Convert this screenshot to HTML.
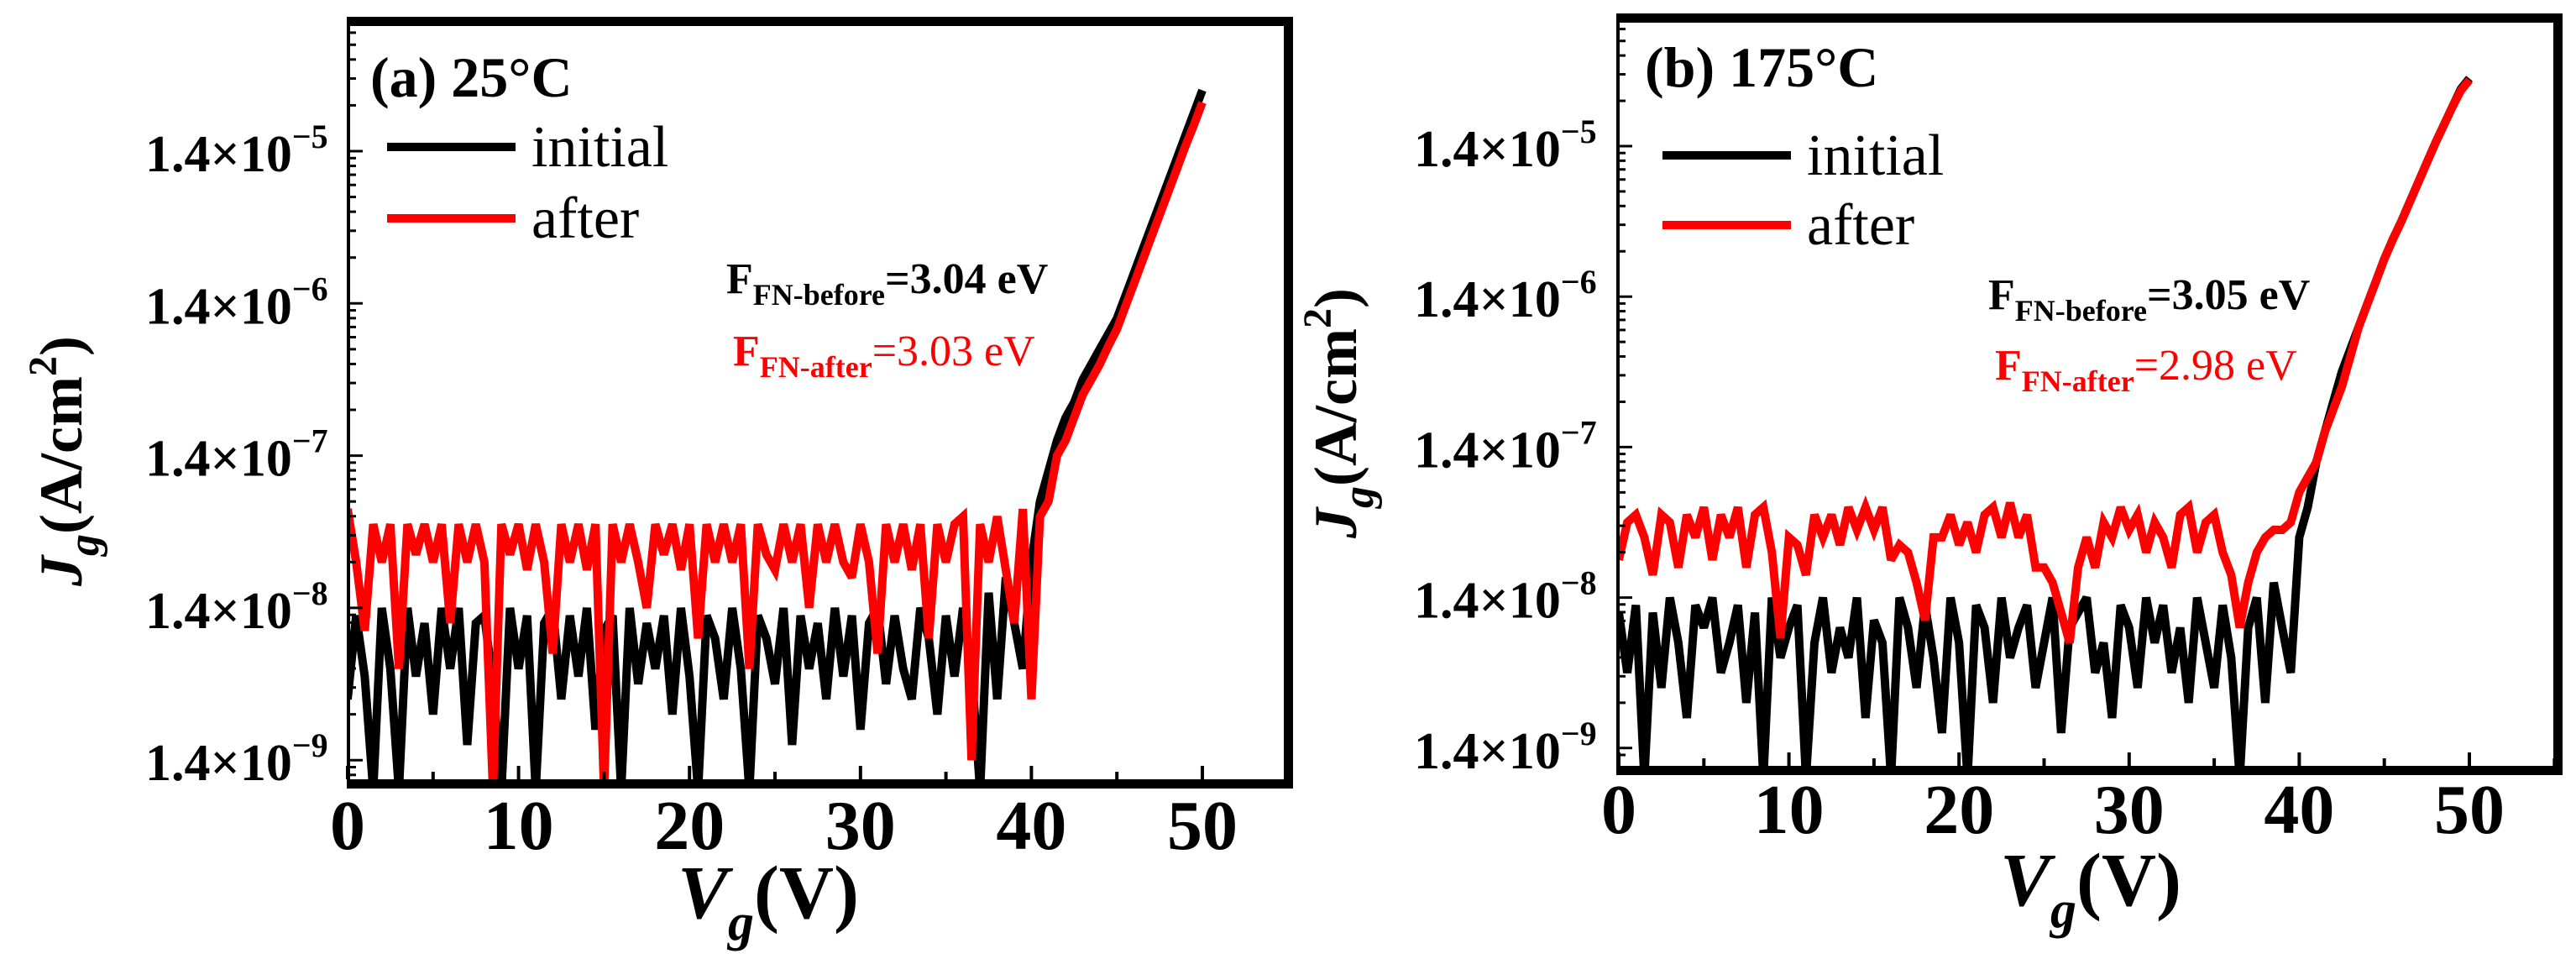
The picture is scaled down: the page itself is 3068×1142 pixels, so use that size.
<!DOCTYPE html>
<html><head><meta charset="utf-8"><style>
html,body{margin:0;padding:0;background:#fff;font-family:'Liberation Serif','Times New Roman',Times,serif;}
svg{display:block;}
</style></head><body>
<svg id="fig" width="3068" height="1142" viewBox="0 0 3068 1142" xmlns="http://www.w3.org/2000/svg"></svg>
<script>
const vg = [0,0.5,1,1.5,2,2.5,3,3.5,4,4.5,5,5.5,6,6.5,7,7.5,8,8.5,9,9.5,10,10.5,11,11.5,12,12.5,13,13.5,14,14.5,15,15.5,16,16.5,17,17.5,18,18.5,19,19.5,20,20.5,21,21.5,22,22.5,23,23.5,24,24.5,25,25.5,26,26.5,27,27.5,28,28.5,29,29.5,30,30.5,31,31.5,32,32.5,33,33.5,34,34.5,35,35.5,36,36.5,37,37.5,38,38.5,39,39.5,40,40.5,41,41.5,42,42.5,43,43.5,44,44.5,45,45.5,46,46.5,47,47.5,48,48.5,49,49.5,50];
// exponent n where Jg = 1.4 x 10^n
const aInitial = [-8.6,-8.05,-8.45,-9.2,-8.0,-8.4,-9.2,-8.0,-8.45,-8.1,-8.7,-8.0,-8.4,-8.0,-8.9,-8.1,-8.05,-8.5,-9.2,-8.0,
-8.4,-8.05,-9.2,-8.1,-8.0,-8.6,-8.05,-8.45,-8.0,-8.8,-8.15,-8.05,-9.2,-8.0,-8.5,-8.1,-8.4,-8.05,-8.7,-8.0,
-8.45,-9.2,-8.05,-8.2,-8.6,-8.0,-8.4,-9.2,-8.05,-8.2,-8.5,-8.0,-8.9,-8.05,-8.4,-8.1,-8.6,-8.0,-8.45,-8.05,
-8.8,-8.1,-8.0,-8.5,-8.05,-8.4,-8.6,-8.0,-8.2,-8.7,-8.05,-8.45,-8.0,-8.4,-9.2,-7.9,-8.6,-7.8,-8.1,-8.4,
-7.7,-7.3,-7.1,-6.9,-6.75,-6.65,-6.5,-6.4,-6.3,-6.2,-6.1,-5.95,-5.8,-5.65,-5.5,-5.35,-5.2,-5.05,-4.9,-4.75,-4.6];
const aAfter = [-7.35,-7.7,-8.15,-7.45,-7.7,-7.45,-8.4,-7.45,-7.65,-7.45,-7.7,-7.45,-8.1,-7.45,-7.7,-7.45,-7.7,-9.2,-7.45,-7.65,
-7.45,-7.75,-7.45,-7.7,-8.3,-7.45,-7.7,-7.45,-7.75,-7.45,-9.2,-7.45,-7.7,-7.45,-7.7,-8.0,-7.45,-7.65,-7.45,-7.75,
-7.45,-8.2,-7.45,-7.7,-7.45,-7.7,-7.45,-8.4,-7.45,-7.65,-7.75,-7.45,-7.7,-7.45,-8.0,-7.45,-7.7,-7.45,-7.7,-7.8,
-7.45,-7.7,-8.3,-7.45,-7.7,-7.45,-7.75,-7.45,-8.2,-7.45,-7.7,-7.45,-7.4,-9.0,-7.45,-7.7,-7.4,-7.75,-8.1,-7.35,
-8.6,-7.4,-7.3,-7.0,-6.9,-6.75,-6.6,-6.5,-6.4,-6.28,-6.17,-6.02,-5.87,-5.72,-5.57,-5.42,-5.27,-5.12,-4.97,-4.83,-4.68];
const bInitial = [-8.1,-8.5,-8.05,-9.2,-8.1,-8.6,-8.0,-8.3,-8.8,-8.05,-8.2,-8.0,-8.5,-8.3,-8.05,-8.7,-8.1,-9.2,-8.0,-8.4,
-8.2,-8.05,-9.2,-8.3,-8.0,-8.5,-8.2,-8.4,-8.0,-8.8,-8.15,-8.3,-9.2,-8.0,-8.2,-8.6,-8.05,-8.4,-8.9,-8.0,
-8.3,-9.2,-8.05,-8.2,-8.7,-8.0,-8.4,-8.2,-8.05,-8.6,-8.3,-8.0,-8.9,-8.2,-8.1,-8.0,-8.5,-8.3,-8.8,-8.05,
-8.2,-8.6,-8.0,-8.3,-8.05,-8.5,-8.2,-8.7,-8.0,-8.3,-8.6,-8.05,-8.4,-9.2,-8.2,-8.0,-8.7,-7.9,-8.2,-8.5,
-7.6,-7.4,-7.1,-6.9,-6.7,-6.5,-6.35,-6.2,-6.05,-5.9,-5.75,-5.62,-5.5,-5.37,-5.24,-5.11,-4.98,-4.86,-4.74,-4.62,-4.55];
const bAfter = [-7.75,-7.5,-7.45,-7.6,-7.85,-7.45,-7.5,-7.8,-7.45,-7.6,
-7.4,-7.75,-7.45,-7.6,-7.4,-7.8,-7.45,-7.4,-7.7,-8.27,
-7.6,-7.65,-7.85,-7.45,-7.6,-7.45,-7.65,-7.4,-7.55,-7.4,
-7.55,-7.4,-7.75,-7.65,-7.7,-7.9,-8.15,-7.6,-7.6,-7.45,
-7.65,-7.5,-7.7,-7.45,-7.4,-7.6,-7.37,-7.6,-7.45,-7.8,
-7.8,-7.9,-8.1,-8.3,-7.8,-7.6,-7.8,-7.5,-7.6,-7.4,
-7.55,-7.45,-7.7,-7.5,-7.6,-7.8,-7.45,-7.4,-7.7,-7.5,
-7.45,-7.7,-7.85,-8.2,-7.9,-7.7,-7.6,-7.55,-7.55,-7.5,
-7.3,-7.2,-7.1,-6.9,-6.75,-6.6,-6.4,-6.2,-6.05,-5.9,-5.75,-5.62,-5.5,-5.37,-5.24,-5.11,-4.98,-4.86,-4.74,-4.63,-4.56];
const xTicks = [0,10,20,30,40,50];
const yTicks = [-9,-8,-7,-6,-5];

const NS="http://www.w3.org/2000/svg";
const svg=document.getElementById('fig');
function mk(tag,attrs,parent){const e=document.createElementNS(NS,tag);for(const k in attrs)e.setAttribute(k,attrs[k]);if(tag==='text')e.style.fontFamily="'Liberation Serif','Times New Roman',Times,serif";(parent||svg).appendChild(e);return e;}

function panel(P){
  const g=mk('g',{});
  
  
  const sx=v=>P.x0+(v-0)*(P.x50-P.x0)/50;
  const sy=n=>P.y5+(-5-n)*P.dec;
  const cid='clip-'+P.id;
  const cp=mk('clipPath',{id:cid},g);
  mk('rect',{x:P.left,y:P.top,width:P.right-P.left,height:P.bottom-P.top},cp);
  [[P.s1,'#000','initial'],[P.s2,'#ff0000','after']].forEach(([arr,col,nm])=>{
    let d='';arr.forEach((n,i)=>{d+=(i?'L':'M')+sx(vg[i]).toFixed(1)+','+sy(n).toFixed(1);});
    const p=mk('path',{d:d,fill:'none',stroke:col,'stroke-width':10,'stroke-linejoin':'miter','stroke-miterlimit':3,'clip-path':'url(#'+cid+')'},g);
    
    
  });
  for(let dd=-10;dd<=-4;dd++){
    for(let k=1;k<10;k++){
      const n=dd+Math.log10(k);const y=sy(n);
      if(y<P.top+6||y>P.bottom-4)continue;
      const t=mk('line',{x1:P.left,x2:P.left+(k===1?17:9),y1:y,y2:y,stroke:'#000','stroke-width':3},g);
      
      
    }
  }
  yTicks.forEach(n=>{
    const y=sy(n);
    const t=mk('text',{x:P.lblx,y:y+24,'font-size':62,'font-weight':'bold'},g);
    
    
    t.appendChild(document.createTextNode('1.4×10'));
    const s=mk('tspan',{dy:-28,'font-size':40},t);s.textContent='−'+(-n);
  });
  for(let v=0;v<=55;v+=5){
    const x=sx(v);
    const t=mk('line',{x1:x,x2:x,y1:P.bottom,y2:P.bottom-(v%10===0?16:9),stroke:'#000','stroke-width':4},g);
    
    
  }
  xTicks.forEach(v=>{
    const t=mk('text',{x:sx(v),y:P.xlby,'font-size':84,'font-weight':'bold','text-anchor':'middle'},g);
    
    
    t.textContent=v;
  });
  const f1=mk('path',{d:`M${P.left},${P.top+5.5}H${P.right-5.5}V${P.bottom+5.5}H${P.left}`,fill:'none',stroke:'#000','stroke-width':11},g);
  
  
  const f2=mk('line',{x1:P.left,x2:P.left,y1:P.top,y2:P.bottom+11,stroke:'#000','stroke-width':4},g);
  
  
  const tt=mk('text',{x:P.tx,y:P.ty,'font-size':68,'font-weight':'bold'},g);
  
  
  tt.textContent=P.title;
  [['#000','initial',P.ly1],['#ff0000','after',P.ly2]].forEach(([c,l,y])=>{
    const ln=mk('line',{x1:P.lx,x2:P.lx+153,y1:y,y2:y,stroke:c,'stroke-width':10},g);
    
    
    const tx=mk('text',{x:P.lx+172,y:y+23,'font-size':70},g);
    
    
    tx.textContent=l;
  });
  const a1=mk('text',{x:P.ax,y:P.ay1,'font-size':52,'font-weight':'bold',fill:'#000'},g);
  
  
  a1.appendChild(document.createTextNode('F'));
  let s=mk('tspan',{dy:14,'font-size':36},a1);s.textContent='FN-before';
  s=mk('tspan',{dy:-14},a1);s.textContent=P.v1;
  const a2=mk('text',{x:P.ax+8,y:P.ay2,'font-size':52,fill:'#ff0000'},g);
  
  
  s=mk('tspan',{'font-weight':'bold'},a2);s.textContent='F';
  s=mk('tspan',{dy:14,'font-size':36,'font-weight':'bold'},a2);s.textContent='FN-after';
  s=mk('tspan',{dy:-14},a2);s.textContent=P.v2;
  const xt=mk('text',{x:P.xtx,y:P.xty,'font-size':90,'font-weight':'bold','text-anchor':'middle'},g);
  
  
  s=mk('tspan',{'font-style':'italic'},xt);s.textContent='V';
  s=mk('tspan',{'font-style':'italic',dy:26,'font-size':62},xt);s.textContent='g';
  s=mk('tspan',{dy:-26},xt);s.textContent='(V)';
  const yt=mk('text',{x:0,y:0,'font-size':72,'font-weight':'bold','text-anchor':'middle',transform:`translate(${P.ytx},${P.yty}) rotate(-90)`},g);
  
  
  s=mk('tspan',{'font-style':'italic'},yt);s.textContent='J';
  s=mk('tspan',{'font-style':'italic',dy:20,'font-size':52},yt);s.textContent='g';
  s=mk('tspan',{dy:-20},yt);s.textContent='(A/cm';
  s=mk('tspan',{dy:-30,'font-size':48},yt);s.textContent='2';
  s=mk('tspan',{dy:30},yt);s.textContent=')';
}
panel({id:'panel-a',left:415,right:1540,top:20,bottom:928,x0:414,x50:1432,y5:180,dec:181.3,
  s1:aInitial,s2:aAfter,lblx:173,xlby:1011,title:'(a) 25°C',tx:441,ty:115,lx:461,ly1:175,ly2:260,
  ax:865,ay1:349,ay2:435,v1:'=3.04 eV',v2:'=3.03 eV',xtx:915,xty:1093,ytx:97,yty:549});
panel({id:'panel-b',left:1927,right:3052,top:16,bottom:912,x0:1928,x50:2941,y5:174,dec:179.2,
  s1:bInitial,s2:bAfter,lblx:1684,xlby:992,title:'(b) 175°C',tx:1959,ty:103,lx:1980,ly1:185,ly2:268,
  ax:2368,ay1:368,ay2:452,v1:'=3.05 eV',v2:'=2.98 eV',xtx:2490,xty:1078,ytx:1615,yty:492});
</script>
</body></html>
